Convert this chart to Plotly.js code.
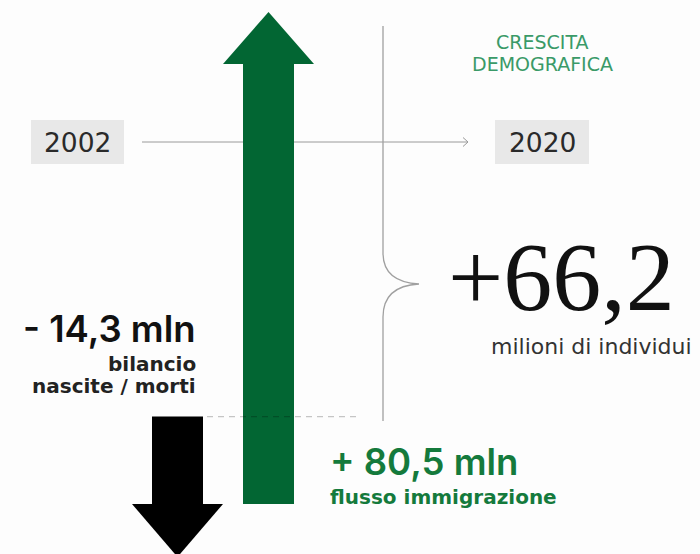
<!DOCTYPE html>
<html>
<head>
<meta charset="utf-8">
<script src="https://cdn.plot.ly/plotly-3.0.1.min.js"></script>
<style>html,body{margin:0;padding:0;background:#fdfdfd;}#chart{width:700px;height:554px;}</style>
</head>
<body>
<div id="chart"></div>
<script>
// ---- data (milioni) ----
const years = ['2002', '2020'];
const immigrationFlow = 80.5;      // flusso immigrazione
const naturalBalance = -14.3;      // bilancio nascite / morti
const totalGrowth = 66.2;          // crescita demografica
const labelTitle = ['CRESCITA', 'DEMOGRAFICA'];
const labelImmigration = ['+ 80,5 mln', 'flusso immigrazione'];
const labelBalance = ['- 14,3 mln', 'bilancio', 'nascite / morti'];
const labelTotal = ['+66,2', 'milioni di individui'];

// ---- layout constants ----
const W = 700, H = 554;
const pxPerUnit = 492 / immigrationFlow;        // scale of the value axis
const yTop = immigrationFlow + 12 / pxPerUnit;
const yBot = yTop - H / pxPerUnit;
const greenX = 268.5, blackX = 177.5, shaftW = 51, headHalf = 45.5;
const greenHead = 52 / pxPerUnit;
const blackHead = 53 / pxPerUnit;
const GREEN = '#026633';
const py = p => 1 - p / H;   // pixel row -> paper

const balanceTop = -naturalBalance;
const greenShaftTop = immigrationFlow - greenHead;

const traces = [
  { type: 'bar', x: [greenX], y: [greenShaftTop], base: [0], width: [shaftW],
    marker: { color: GREEN, line: { width: 0 } }, hoverinfo: 'skip' },
  { type: 'scatter', mode: 'lines', fill: 'toself', fillcolor: GREEN, line: { width: 0, color: GREEN },
    x: [greenX - headHalf, greenX + headHalf, greenX, greenX - headHalf],
    y: [greenShaftTop, greenShaftTop, immigrationFlow, greenShaftTop], hoverinfo: 'skip' },
  { type: 'bar', x: [blackX], y: [balanceTop], base: [0], width: [shaftW],
    marker: { color: '#000000', line: { width: 0 } }, hoverinfo: 'skip' },
  { type: 'scatter', mode: 'lines', fill: 'toself', fillcolor: '#000000', line: { width: 0, color: '#000' },
    x: [blackX - headHalf, blackX + headHalf, blackX, blackX - headHalf],
    y: [0, 0, -blackHead, 0], hoverinfo: 'skip' }
];

const bracket = 'M 383 ' + py(26) + ' L 383 ' + py(253) + ' Q 383 ' + py(282) + ' 419 ' + py(284) +
  ' Q 383 ' + py(286) + ' 383 ' + py(317) + ' L 383 ' + py(421);

const shapes = [
  { type: 'rect', xref: 'x', yref: 'paper', x0: 31, x1: 124, y0: py(120), y1: py(164), fillcolor: '#e8e8e8', line: { width: 0 }, layer: 'below' },
  { type: 'rect', xref: 'x', yref: 'paper', x0: 495, x1: 589, y0: py(120), y1: py(164), fillcolor: '#e8e8e8', line: { width: 0 }, layer: 'below' },
  { type: 'line', xref: 'x', yref: 'paper', x0: 142, x1: 468, y0: py(142), y1: py(142), line: { color: '#9a9a9a', width: 1 }, layer: 'below' },
  { type: 'path', xref: 'x', yref: 'paper', path: 'M 463 ' + py(137.5) + ' L 468 ' + py(142) + ' L 463 ' + py(146.5), line: { color: '#9a9a9a', width: 1 }, layer: 'below' },
  { type: 'path', xref: 'x', yref: 'paper', path: bracket, line: { color: '#a0a0a0', width: 1.3 }, layer: 'below' },
  { type: 'line', xref: 'x', yref: 'y', x0: 207, x1: 356, y0: balanceTop, y1: balanceTop, line: { color: 'rgba(0,0,0,0.22)', width: 1.3, dash: '6px,5px' }, layer: 'above' }
];

const SANS = '"DejaVu Sans", sans-serif';
const BIG = 'Inter, "DejaVu Sans", sans-serif';
const ann = (text, x, yp, font, opts) => Object.assign({
  text: text, xref: 'x', yref: 'paper', x: x, y: py(yp), showarrow: false,
  font: font, xanchor: 'center', yanchor: 'middle'
}, opts || {});

const annotations = [
  ann(years[0], 77.5, 142, { family: SANS, size: 26.5, color: '#2a2a2a' }),
  ann(years[1], 542, 142, { family: SANS, size: 26.5, color: '#2a2a2a' }),
  ann(labelTitle[0], 542, 42, { family: SANS, size: 19, color: '#3a9a68' }),
  ann(labelTitle[1], 542, 64, { family: SANS, size: 19, color: '#3a9a68' }),
  ann(labelTotal[0], 561.5, 277, { family: '"Liberation Serif", serif', size: 98, color: '#111' }),
  ann(labelTotal[1], 694, 346, { family: SANS, size: 22, color: '#333' }, { xanchor: 'right' }),
  ann(labelBalance[0], 198, 329, { family: BIG, size: 36.5, color: '#111', weight: 600 }, { xanchor: 'right' }),
  ann(labelBalance[1], 198, 364, { family: SANS, size: 20, color: '#222', weight: 700 }, { xanchor: 'right' }),
  ann(labelBalance[2], 198, 386, { family: SANS, size: 20, color: '#222', weight: 700 }, { xanchor: 'right' }),
  ann(labelImmigration[0], 328, 462, { family: BIG, size: 36.5, color: '#147a3c', weight: 600 }, { xanchor: 'left' }),
  ann(labelImmigration[1], 328, 497, { family: SANS, size: 20, color: '#147a3c', weight: 700 }, { xanchor: 'left' })
];

const layout = {
  width: W, height: H, margin: { l: 0, r: 0, t: 0, b: 0 },
  paper_bgcolor: '#fdfdfd', plot_bgcolor: '#fdfdfd',
  showlegend: false, barmode: 'overlay',
  xaxis: { range: [0, W], visible: false, fixedrange: true },
  yaxis: { range: [yBot, yTop], visible: false, fixedrange: true },
  shapes: shapes, annotations: annotations
};

Plotly.newPlot('chart', traces, layout, { staticPlot: true, displayModeBar: false });
</script>
</body>
</html>
